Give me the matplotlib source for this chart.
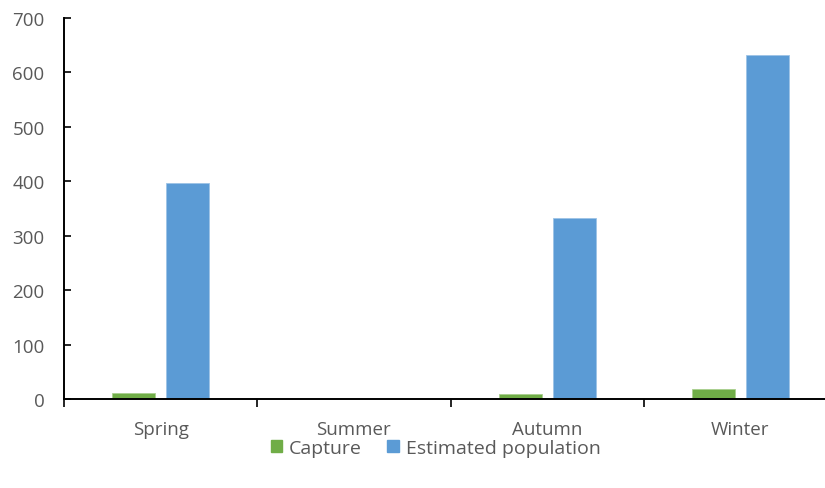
import numpy as np
import matplotlib.pyplot as plt
from matplotlib.patches import Patch

# values
seasons = ['Spring', 'Summer', 'Autumn', 'Winter']
capture = [11, 0, 8.5, 18]
estimated_population = [397, 0, 332, 633]

green = '#70AD47'
blue = '#5B9BD5'
grey = '#595959'

plt.rcParams['font.family'] = ['Open Sans', 'DejaVu Sans']

fig = plt.figure(figsize=(8.25, 4.89), dpi=100)
# the plot area runs slightly past the right edge in the original
ax = fig.add_axes([0.0776, 0.182, 0.937, 0.779])

x = np.arange(len(seasons))
width = 0.222
ax.bar(x - 0.14, capture, width, color=green, edgecolor='#a9d08e', linewidth=0.6)
ax.bar(x + 0.14, estimated_population, width, color=blue, edgecolor='#9dc3e6', linewidth=0.6)

ax.set_xlim(-0.5, len(seasons) - 0.5)
ax.set_ylim(0, 700)
ax.set_yticks(range(0, 701, 100))

ax.set_xticks(x)
ax.set_xticklabels(seasons)
ax.set_xticks(np.arange(-0.5, len(seasons), 1), minor=True)
ax.tick_params(axis='x', which='major', length=0, pad=15, labelsize=13.5, labelcolor=grey)
ax.tick_params(axis='x', which='minor', length=6, width=1.2, direction='out', color='black')
ax.tick_params(axis='y', length=5, width=1.2, direction='in', color='black',
               labelsize=13.5, labelcolor=grey, pad=14)

for side in ['top', 'right']:
    ax.spines[side].set_visible(False)
for side in ['left', 'bottom']:
    ax.spines[side].set_linewidth(1.4)
    ax.spines[side].set_color('black')

handles = [Patch(color=green, label='Capture'),
           Patch(color=blue, label='Estimated population')]
fig.legend(handles=handles, loc='center', bbox_to_anchor=(0.528, 0.082), ncol=2,
           frameon=False, fontsize=14, labelcolor=grey, handlelength=0.6,
           handleheight=0.6, handletextpad=0.35, columnspacing=1.3)

fig.savefig('out.png', dpi=100)
